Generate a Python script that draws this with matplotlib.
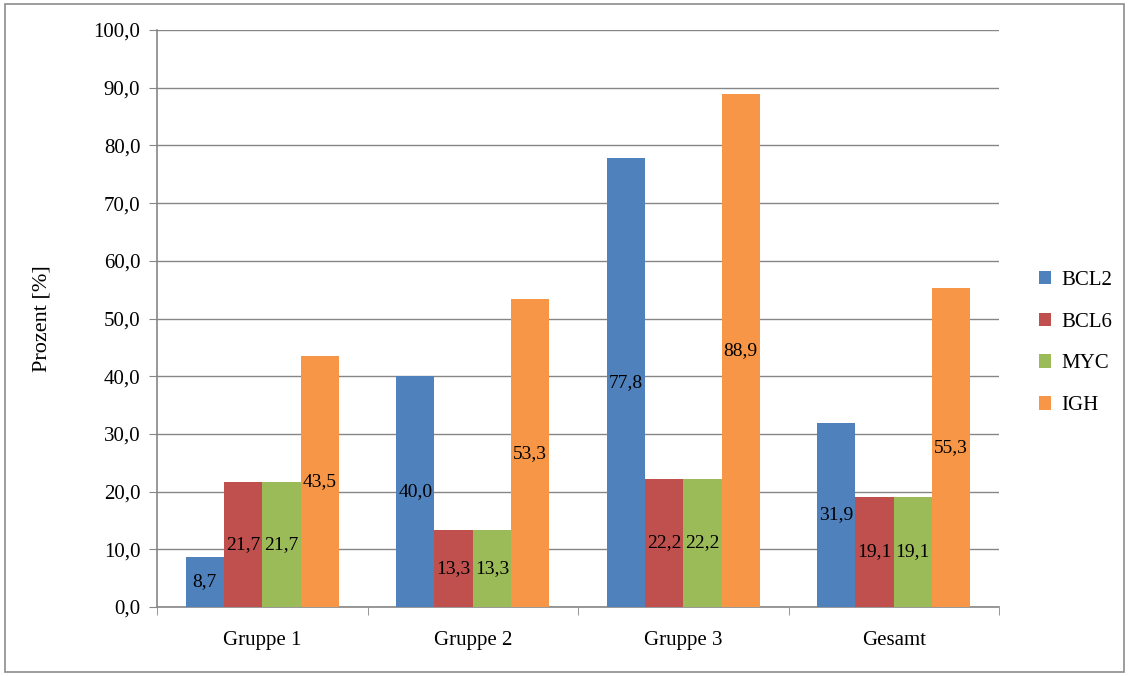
import numpy as np
import matplotlib
matplotlib.use("Agg")
import matplotlib.pyplot as plt
from matplotlib.patches import Rectangle

# data
groups = ["Gruppe 1", "Gruppe 2", "Gruppe 3", "Gesamt"]
bcl2 = [8.7, 40.0, 77.8, 31.9]
bcl6 = [21.7, 13.3, 22.2, 19.1]
myc = [21.7, 13.3, 22.2, 19.1]
igh = [43.5, 53.3, 88.9, 55.3]
series_names = ["BCL2", "BCL6", "MYC", "IGH"]
colors = ["#4f81bd", "#c0504d", "#9bbb59", "#f79646"]

plt.rcParams['font.family'] = ['Liberation Serif', 'DejaVu Serif']

fig = plt.figure(figsize=(11.29, 6.76), dpi=100)
ax = fig.add_axes([157/1129, 1-607/676, (999-157)/1129, (607-30)/676])

# outer chart border
fig.patches.append(Rectangle((5/1129, 4/676), 1119/1129, 668/676, transform=fig.transFigure,
                             fill=False, edgecolor="#8c8c8c", linewidth=1.2))

x = np.arange(len(groups))
gap = 1.5
w = 1.0/(4+gap)
allser = [bcl2, bcl6, myc, igh]
for i, vals in enumerate(allser):
  pos = x - 2*w + (i+0.5)*w
  bars = ax.bar(pos, vals, width=w, color=colors[i], label=series_names[i], zorder=3)
  for b, v in zip(bars, vals):
    ax.text(b.get_x()+b.get_width()/2, v/2, ("%.1f" % v).replace(".", ","),
            ha="center", va="center", fontsize=14, color="black", zorder=4)

ax.set_xlim(-0.5, len(groups)-0.5)
ax.set_ylim(0, 100)
ax.set_yticks(np.arange(0, 101, 10))
ax.set_yticklabels([("%.1f" % t).replace(".", ",") for t in np.arange(0, 101, 10)], fontsize=15)
ax.set_xticks(x)
ax.set_xticklabels(groups, fontsize=15)
ax.set_xticks(np.arange(-0.5, len(groups), 1), minor=True)
ax.tick_params(axis="x", which="major", length=0, pad=17)
ax.tick_params(axis="x", which="minor", length=6, color="#868686", direction="out")
ax.tick_params(axis="y", length=6, color="#868686", direction="out", pad=6)
ax.grid(axis="y", color="#868686", linewidth=1, zorder=0)
for s in ["top", "right"]:
  ax.spines[s].set_visible(False)
for s in ["left", "bottom"]:
  ax.spines[s].set_color("#868686")
  ax.spines[s].set_linewidth(1.2)
ax.set_ylabel("Prozent [%]", fontsize=16)
ax.yaxis.set_label_coords(-105/842, 0.5)

leg = fig.legend(loc="center left", bbox_to_anchor=(1020/1129, 1-343/676), frameon=False,
                 fontsize=15, handlelength=0.6, handleheight=0.6, handletextpad=0.5,
                 labelspacing=1.1)

fig.savefig("out.png", dpi=100)
